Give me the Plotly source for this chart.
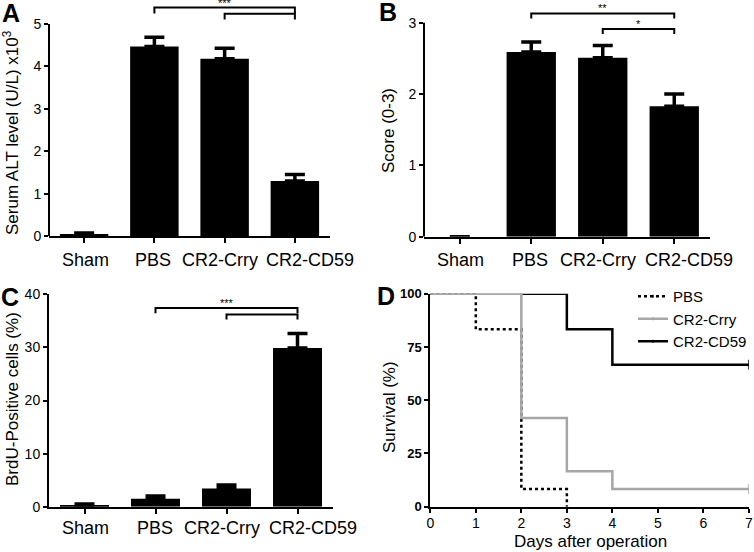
import plotly.graph_objects as go

categories = ["Sham", "PBS", "CR2-Crry", "CR2-CD59"]

# panel A: serum ALT (x10^3 U/L), mean and upper SEM
alt_mean = [0.05, 4.47, 4.18, 1.30]
alt_sem = [0.02, 0.22, 0.25, 0.15]

# panel B: histology score
score_mean = [0.0, 2.59, 2.51, 1.83]
score_sem = [None, 0.14, 0.17, 0.17]

# panel C: BrdU positive cells (%)
brdu_mean = [0.3, 1.5, 3.45, 29.9]
brdu_sem = [0.2, 0.5, 0.65, 2.7]

# significance brackets: left group, right group, height, drop, label
alt_brackets = [("PBS", "CR2-CD59", 5.39, 0.14, "***"), ("CR2-Crry", "CR2-CD59", 5.24, 0.13, "")]
score_brackets = [("PBS", "CR2-CD59", 3.13, 0.07, "**"), ("CR2-Crry", "CR2-CD59", 2.91, 0.07, "*")]
brdu_brackets = [("PBS", "CR2-CD59", 37.4, 0.95, "***"), ("CR2-Crry", "CR2-CD59", 36.2, 0.95, "")]

# panel D: survival (Kaplan-Meier steps)
days_pbs = [0, 1, 2, 3]
surv_pbs = [100, 83.3, 8.3, 0]
days_crry = [0, 2, 3, 4, 7]
surv_crry = [100, 41.7, 16.7, 8.3, 8.3]
days_cd59 = [0, 3, 4, 7]
surv_cd59 = [100, 83.3, 66.7, 66.7]

W, H = 754, 552
FONT = "Liberation Sans, Arial, sans-serif"
# Prism nudges the long group labels sideways so they do not collide
label_nudge = [1, -1, -5, 15]


def fx(p):
    return p / W


def fy(p):
    return 1 - p / H


fig = go.Figure()


def bar_panel(n, mean, sem, brackets, label_py):
    xa, ya = ("x", "y") if n == 1 else (f"x{n}", f"y{n}")
    fig.add_trace(go.Bar(
        x=categories, y=mean, width=0.69, marker=dict(color="black", line=dict(width=0)),
        error_y=dict(type="data", array=sem, arrayminus=[0] * len(sem), symmetric=False,
                     color="black", thickness=3.5, width=10),
        xaxis=xa, yaxis=ya, showlegend=False,
    ))
    for left, right, h, drop, label in brackets:
        fig.add_trace(go.Scatter(
            x=[left, left, right, right], y=[h - drop, h, h, h - drop], mode="lines",
            line=dict(color="black", width=2), xaxis=xa, yaxis=ya, showlegend=False,
        ))
        if label:
            mid = (categories.index(left) + categories.index(right)) / 2
            fig.add_annotation(x=mid, y=h, xref=xa, yref=ya, text=label, showarrow=False,
                               yanchor="bottom", yshift=-3,
                               font=dict(size=11, family=FONT, color="black"))
    for i, cat in enumerate(categories):
        fig.add_annotation(x=cat, y=fy(label_py), xref=xa, yref="paper", text=cat,
                           showarrow=False, xanchor="center", yanchor="middle",
                           xshift=label_nudge[i],
                           font=dict(size=18, family=FONT, color="black"))


bar_panel(1, alt_mean, alt_sem, alt_brackets, 260)
bar_panel(2, score_mean, score_sem, score_brackets, 260)
bar_panel(3, brdu_mean, brdu_sem, brdu_brackets, 528)

for name, days, surv, color, dash, rank in [
    ("CR2-CD59", days_cd59, surv_cd59, "black", "solid", 3),
    ("PBS", days_pbs, surv_pbs, "black", "dot", 1),
    ("CR2-Crry", days_crry, surv_crry, "#a6a6a6", "solid", 2),
]:
    sizes = [0] * (len(days) - 1) + ([0] if name == "PBS" else [7])
    fig.add_trace(go.Scatter(
        x=days, y=surv, name=name, mode="lines+markers", legendrank=rank,
        line=dict(shape="hv", color=color, width=2.5, dash=dash),
        marker=dict(symbol="line-ns-open", size=sizes, line=dict(color=color, width=2)),
        xaxis="x4", yaxis="y4",
    ))

base = dict(showgrid=False, zeroline=False, linecolor="black", linewidth=2, ticks="outside",
            tickwidth=2, tickcolor="black", ticklen=5, automargin=False)
cat_x = dict(base, type="category", range=[-0.5, 3.5], showline=True, showticklabels=False)
num_y = dict(base, ticklen=4, tickfont=dict(family=FONT, size=14, color="black"))

fig.update_layout(
    width=W, height=H, margin=dict(l=0, r=0, t=0, b=0, autoexpand=False),
    paper_bgcolor="white", plot_bgcolor="white",
    font=dict(family=FONT, color="black"),
    xaxis=dict(cat_x, domain=[fx(49), fx(330)], anchor="y"),
    yaxis=dict(num_y, domain=[fy(236), fy(2)], range=[0, 5.52], tickvals=[0, 1, 2, 3, 4, 5],
               showline=False, anchor="x"),
    xaxis2=dict(cat_x, domain=[fx(424), fx(710)], anchor="y2"),
    yaxis2=dict(num_y, domain=[fy(236.7), fy(2)], range=[0, 3.29], tickvals=[0, 1, 2, 3],
                showline=False, anchor="x2"),
    xaxis3=dict(cat_x, domain=[fx(49), fx(333)], anchor="y3"),
    yaxis3=dict(num_y, domain=[fy(506.7), fy(294.3)], range=[0, 40], tickvals=[0, 10, 20, 30, 40],
                showline=True, anchor="x3"),
    xaxis4=dict(base, domain=[fx(430.3), fx(749)], range=[0, 7.002], tickvals=list(range(8)),
                showline=True, ticklen=4, ticklabelstandoff=-2,
                tickfont=dict(family=FONT, size=14, color="black"), anchor="y4"),
    yaxis4=dict(num_y, domain=[fy(506.7), fy(293.7)], range=[0, 100], tickvals=[0, 25, 50, 75, 100],
                showline=True, tickfont=dict(family=FONT, size=13, color="black", weight="bold"),
                anchor="x4"),
    legend=dict(x=fx(752), y=fy(280), xanchor="right", yanchor="top", bgcolor="rgba(0,0,0,0)",
                itemwidth=30, font=dict(family=FONT, size=15), tracegroupgap=0),
    shapes=[
        dict(type="line", xref="x domain", yref="y", x0=0, x1=0, y0=0, y1=5,
             line=dict(color="black", width=2)),
        dict(type="line", xref="x2 domain", yref="y2", x0=0, x1=0, y0=0, y1=3,
             line=dict(color="black", width=2)),
    ],
)

# axis titles and panel letters
titles = [
    ("Serum ALT level (U/L) x10<sup>3</sup>", 11, 133, -90, 17),
    ("Score (0-3)", 389, 130, -90, 17),
    ("BrdU-Positive cells (%)", 12, 399, -90, 17),
    ("Survival (%)", 389, 407, -90, 17),
    ("Days after operation", 590, 541, 0, 17),
]
for text, px, py, angle, size in titles:
    fig.add_annotation(x=fx(px), y=fy(py), xref="paper", yref="paper", text=text, textangle=angle,
                       showarrow=False, xanchor="center", yanchor="middle",
                       font=dict(family=FONT, size=size, color="black"))

for letter, px, py in [("A", 11, 13), ("B", 388, 12), ("C", 10, 297), ("D", 386, 296)]:
    fig.add_annotation(x=fx(px), y=fy(py), xref="paper", yref="paper", text=f"<b>{letter}</b>",
                       showarrow=False, xanchor="center", yanchor="middle",
                       font=dict(family=FONT, size=25, color="black"))

fig.write_html("out.html", config={"displayModeBar": False},
               post_script="document.body.style.margin='0';")
